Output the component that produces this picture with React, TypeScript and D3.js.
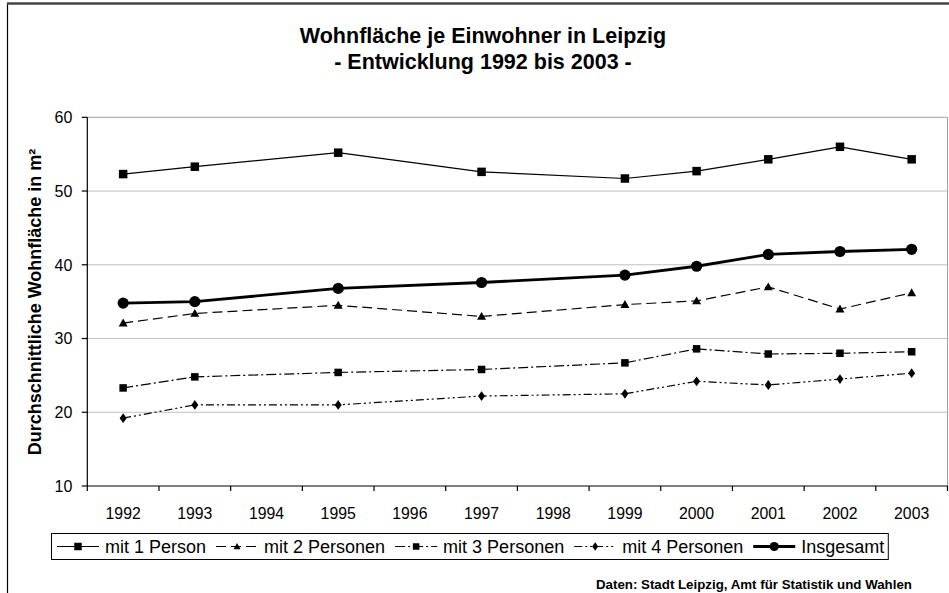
import React, { useEffect, useRef } from "react";
import * as d3 from "d3";

const categories = ["1992", "1993", "1994", "1995", "1996", "1997", "1998", "1999", "2000", "2001", "2002", "2003"];
const mit1Person = [52.3, 53.3, null, 55.2, null, 52.6, null, 51.7, 52.7, 54.3, 56.0, 54.3];
const mit2Personen = [32.1, 33.4, null, 34.5, null, 33.0, null, 34.6, 35.1, 37.0, 34.0, 36.2];
const mit3Personen = [23.3, 24.8, null, 25.4, null, 25.8, null, 26.7, 28.6, 27.9, 28.0, 28.2];
const mit4Personen = [19.2, 21.0, null, 21.0, null, 22.2, null, 22.5, 24.2, 23.7, 24.5, 25.3];
const insgesamt = [34.8, 35.0, null, 36.8, null, 37.6, null, 38.6, 39.8, 41.4, 41.8, 42.1];
const seriesNames = ["mit 1 Person", "mit 2 Personen", "mit 3 Personen", "mit 4 Personen", "Insgesamt"];
const yTicks = [10, 20, 30, 40, 50, 60];
const titleLines = ["Wohnfläche je Einwohner in Leipzig", "- Entwicklung 1992 bis 2003 -"];
const yAxisTitle = "Durchschnittliche Wohnfläche in m²";
const sourceText = "Daten: Stadt Leipzig, Amt für Statistik und Wahlen";

const W = 949;
const H = 593;
const FONT = "Arial, 'Liberation Sans', Helvetica, sans-serif";

type Style = { width: number; dash: string | null; marker: string; size: number; legendSize: number };
const styles: Style[] = [
  { width: 1.2, dash: null, marker: "square", size: 8.5, legendSize: 7.5 },
  { width: 1.2, dash: "10,5", marker: "triangle", size: 9, legendSize: 7 },
  { width: 1.2, dash: "10,3,2,3", marker: "square", size: 7.5, legendSize: 6.5 },
  { width: 1.2, dash: "8,3,2,3,2,3", marker: "diamond", size: 7, legendSize: 6 },
  { width: 2.8, dash: null, marker: "circle", size: 5.6, legendSize: 4.6 },
];

function markerPath(kind: string, s: number): string {
  if (kind === "square") return `M${-s / 2},${-s / 2}h${s}v${s}h${-s}Z`;
  if (kind === "triangle") return `M0,${-s * 0.5}L${s * 0.5},${s * 0.38}L${-s * 0.5},${s * 0.38}Z`;
  if (kind === "diamond") return `M0,${-s * 0.7}L${s * 0.5},0L0,${s * 0.7}L${-s * 0.5},0Z`;
  return `M${-s},0A${s},${s} 0 1,0 ${s},0A${s},${s} 0 1,0 ${-s},0Z`;
}

export default function App() {
  const ref = useRef<SVGSVGElement | null>(null);

  useEffect(() => {
    const svg = d3.select(ref.current);
    svg.selectAll("*").remove();
    const allSeries = [mit1Person, mit2Personen, mit3Personen, mit4Personen, insgesamt];

    const left = 87.3, right = 947.5, top = 117.3, bottom = 486;
    const x = d3.scaleBand<string>().domain(categories).range([left, right]);
    const y = d3.scaleLinear().domain([10, 60]).range([bottom, top]);

    svg.append("rect").attr("width", W).attr("height", H).attr("fill", "#fff");

    // outer frame
    svg.append("line").attr("x1", 7.5).attr("x2", 7.5).attr("y1", 3).attr("y2", H + 5)
      .attr("stroke", "#000").attr("stroke-width", 1.2);
    svg.append("line").attr("x1", 7).attr("x2", W + 5).attr("y1", 3.5).attr("y2", 3.5)
      .attr("stroke", "#444").attr("stroke-width", 2.5);

    // title
    titleLines.forEach((t, i) => {
      svg.append("text").attr("x", 483).attr("y", 43 + i * 26).attr("text-anchor", "middle")
        .attr("font-family", FONT).attr("font-size", 21.5).attr("font-weight", "bold").text(t);
    });

    // grid
    const grid = svg.append("g");
    yTicks.filter((v) => v > 10 && v < 60).forEach((v) => {
      grid.append("line").attr("x1", left).attr("x2", right).attr("y1", y(v)).attr("y2", y(v))
        .attr("stroke", "#c0c0c0").attr("stroke-width", 1);
    });
    grid.append("path").attr("d", `M${left},${y(60)}H${right}V${bottom}`).attr("fill", "none")
      .attr("stroke", "#a0a0a0").attr("stroke-width", 1);

    // axes
    const ax = svg.append("g").attr("stroke", "#000").attr("stroke-width", 1.2);
    ax.append("line").attr("x1", left).attr("x2", left).attr("y1", top).attr("y2", bottom);
    ax.append("line").attr("x1", left).attr("x2", right).attr("y1", bottom).attr("y2", bottom);
    yTicks.forEach((v) => {
      ax.append("line").attr("x1", left - 5.5).attr("x2", left).attr("y1", y(v)).attr("y2", y(v));
      svg.append("text").attr("x", left - 15).attr("y", y(v)).attr("dy", "0.36em")
        .attr("text-anchor", "end").attr("font-family", FONT).attr("font-size", 16).text(String(v));
    });
    const bounds = categories.map((c) => x(c) as number).concat([right]);
    bounds.forEach((b) => {
      ax.append("line").attr("x1", b).attr("x2", b).attr("y1", bottom).attr("y2", bottom + 5);
    });
    categories.forEach((c) => {
      svg.append("text").attr("x", (x(c) as number) + x.bandwidth() / 2).attr("y", 519)
        .attr("text-anchor", "middle").attr("font-family", FONT).attr("font-size", 15.8).text(c);
    });

    // y axis title
    svg.append("text").attr("transform", `translate(41,302) rotate(-90)`).attr("text-anchor", "middle")
      .attr("font-family", FONT).attr("font-size", 18).attr("font-weight", "bold").text(yAxisTitle);

    // series
    const line = d3.line<{ c: string; v: number }>()
      .x((d) => (x(d.c) as number) + x.bandwidth() / 2)
      .y((d) => y(d.v));
    allSeries.forEach((vals, si) => {
      const st = styles[si];
      const pts = categories.map((c, i) => ({ c, v: vals[i] as number | null }))
        .filter((d) => d.v !== null) as { c: string; v: number }[];
      svg.append("path").attr("d", line(pts) as string).attr("fill", "none")
        .attr("stroke", "#000").attr("stroke-width", st.width)
        .attr("stroke-dasharray", st.dash).attr("stroke-linejoin", "round");
      pts.forEach((p) => {
        svg.append("path").attr("d", markerPath(st.marker, st.size))
          .attr("transform", `translate(${(x(p.c) as number) + x.bandwidth() / 2},${y(p.v)})`)
          .attr("fill", "#000");
      });
    });

    // legend
    const lg = svg.append("g");
    const box = lg.append("rect").attr("x", 51.5).attr("y", 533.5).attr("height", 26)
      .attr("fill", "#fff").attr("stroke", "#000").attr("stroke-width", 1);
    let cx = 57;
    const ly = 546.5;
    seriesNames.forEach((name, si) => {
      const st = styles[si];
      lg.append("line").attr("x1", cx).attr("x2", cx + 42).attr("y1", ly).attr("y2", ly)
        .attr("stroke", "#000").attr("stroke-width", st.width).attr("stroke-dasharray", st.dash);
      lg.append("path").attr("d", markerPath(st.marker, st.legendSize))
        .attr("transform", `translate(${cx + 21},${ly})`).attr("fill", "#000");
      const t = lg.append("text").attr("x", cx + 48).attr("y", ly).attr("dy", "0.36em")
        .attr("font-family", FONT).attr("font-size", 18).text(name);
      const w = (t.node() as SVGTextElement).getComputedTextLength();
      cx = cx + 48 + w + 10;
    });
    box.attr("width", cx - 10 + 4 - 51.5);

    // source
    svg.append("text").attr("x", 596).attr("y", 589).attr("font-family", FONT)
      .attr("font-size", 13.3).attr("font-weight", "bold").text(sourceText);
  }, []);

  return (
    <svg ref={ref} width={W} height={H} style={{ position: "absolute", left: 0, top: 0 }} />
  );
}
